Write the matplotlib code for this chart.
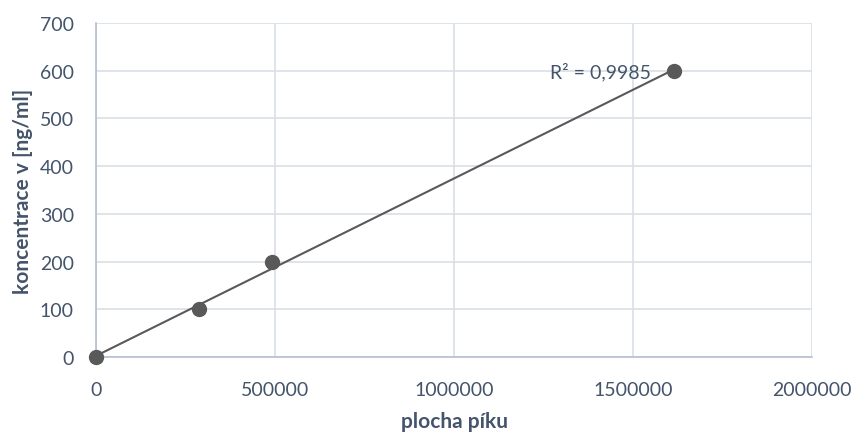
import numpy as np
import matplotlib.pyplot as plt

# values
plocha = [0, 288000, 492000, 1615000]
koncentrace = [0, 100, 200, 600]
r2_text = 'R² = 0,9985'

x_ticks = [0, 500000, 1000000, 1500000, 2000000]
y_ticks = [0, 100, 200, 300, 400, 500, 600, 700]

plt.rcParams['font.family'] = ['Lato', 'DejaVu Sans']

txt = '#44546A'
grid = '#D9DEE6'
axis_c = '#B4BFD0'
mark = '#595959'

fig = plt.figure(figsize=(8.55, 4.35), dpi=100)
ax = fig.add_axes([96 / 855, 77 / 435, 716 / 855, 334 / 435])

# linear trendline over the data range
k, q = np.polyfit(plocha, koncentrace, 1)
xl = np.array([min(plocha), max(plocha)])
ax.plot(xl, k * xl + q, color=mark, linewidth=1.5, zorder=3)
ax.scatter(plocha, koncentrace, s=100, color=mark, zorder=4, clip_on=False)

ax.text(1550000, 600, r2_text, ha='right', va='center', fontsize=14, color=txt, zorder=5)

ax.set_xlim(0, 2000000)
ax.set_ylim(0, 700)
ax.set_xticks(x_ticks)
ax.set_yticks(y_ticks)
ax.set_xticklabels([str(v) for v in x_ticks])
ax.grid(True, color=grid, linewidth=1.2)
ax.set_axisbelow(True)
ax.tick_params(length=0, labelsize=14, labelcolor=txt)
ax.tick_params(axis='x', pad=17)
ax.tick_params(axis='y', pad=16)

for s in ['top', 'right']:
    ax.spines[s].set_visible(False)
for s in ['left', 'bottom']:
    ax.spines[s].set_color(axis_c)
    ax.spines[s].set_linewidth(1.2)

ax.set_xlabel('plocha píku', fontsize=15, fontweight='bold', color=txt, labelpad=10)
ax.set_ylabel('koncentrace v [ng/ml]', fontsize=15, fontweight='bold', color=txt, labelpad=5)

fig.savefig('out.png', dpi=100)
